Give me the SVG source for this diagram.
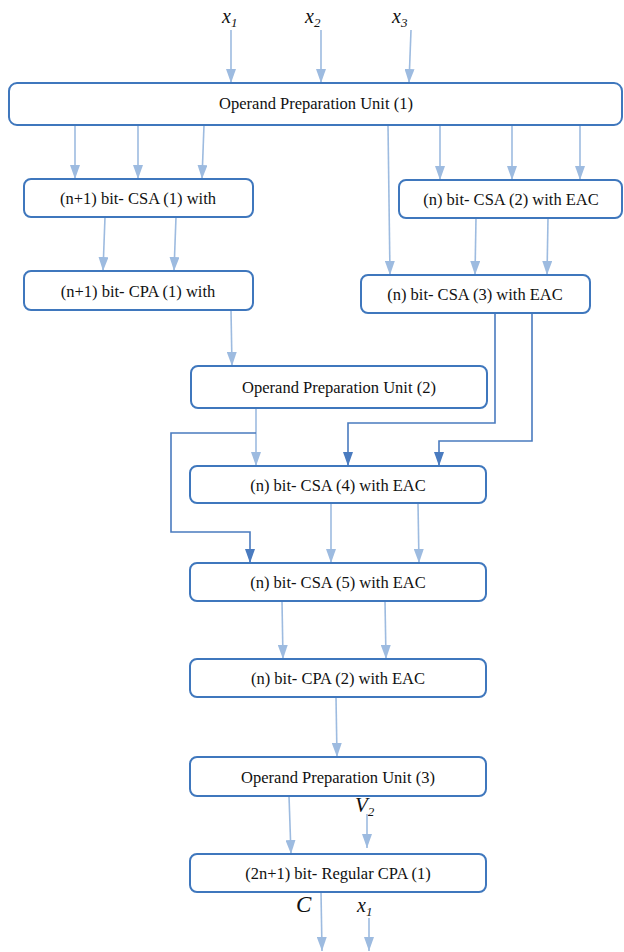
<svg xmlns="http://www.w3.org/2000/svg" width="624" height="952" viewBox="0 0 624 952">
<style>
.box{fill:#fff;stroke:#3f77bd;stroke-width:2}
.t{font-family:"Liberation Serif","Times New Roman","DejaVu Serif",serif;font-size:16.5px;fill:#111;text-anchor:middle}
.lbl{font-family:"Liberation Serif","Times New Roman","DejaVu Serif",serif;font-style:italic;fill:#111}
.lt{fill:none;stroke:#9dbbe0;stroke-width:1.6}
.dk{fill:none;stroke:#4a7bbf;stroke-width:1.6}
</style>
<defs>
<marker id="al" markerUnits="userSpaceOnUse" markerWidth="14" markerHeight="10" refX="14" refY="5" orient="auto"><path d="M0,0 L14,5 L0,10 z" fill="#9dbbe0"/></marker>
<marker id="ad" markerUnits="userSpaceOnUse" markerWidth="14" markerHeight="10" refX="14" refY="5" orient="auto"><path d="M0,0 L14,5 L0,10 z" fill="#4a7bbf"/></marker>
</defs>
<rect width="624" height="952" fill="#fff"/>
<g id="labels">
<text class="lbl" x="222" y="23" font-size="20">x<tspan font-size="13" dy="4">1</tspan></text>
<text class="lbl" x="305" y="23" font-size="20">x<tspan font-size="13" dy="4">2</tspan></text>
<text class="lbl" x="392" y="23" font-size="20">x<tspan font-size="13" dy="4">3</tspan></text>
<text class="lbl" x="355" y="812" font-size="21">V<tspan font-size="13" dy="4">2</tspan></text>
<text class="lbl" x="296" y="912" font-size="23">C</text>
<text class="lbl" x="357" y="912" font-size="20">x<tspan font-size="13" dy="4">1</tspan></text>
</g>
<g id="connectors">
<line class="lt" x1="231" y1="30" x2="231" y2="83" marker-end="url(#al)"/>
<line class="lt" x1="321" y1="30" x2="321" y2="83" marker-end="url(#al)"/>
<line class="lt" x1="411" y1="30" x2="409" y2="83" marker-end="url(#al)"/>
<line class="lt" x1="75" y1="125" x2="75" y2="179" marker-end="url(#al)"/>
<line class="lt" x1="138" y1="125" x2="138" y2="179" marker-end="url(#al)"/>
<line class="lt" x1="204" y1="125" x2="202" y2="179" marker-end="url(#al)"/>
<line class="lt" x1="440" y1="125" x2="440" y2="180" marker-end="url(#al)"/>
<line class="lt" x1="512" y1="125" x2="512" y2="180" marker-end="url(#al)"/>
<line class="lt" x1="580" y1="125" x2="580" y2="180" marker-end="url(#al)"/>
<line class="lt" x1="388" y1="125" x2="390" y2="275" marker-end="url(#al)"/>
<line class="lt" x1="105" y1="217" x2="103" y2="271" marker-end="url(#al)"/>
<line class="lt" x1="176" y1="217" x2="174" y2="271" marker-end="url(#al)"/>
<line class="lt" x1="476" y1="218" x2="475" y2="275" marker-end="url(#al)"/>
<line class="lt" x1="548" y1="218" x2="547" y2="275" marker-end="url(#al)"/>
<line class="lt" x1="231" y1="310" x2="232" y2="366" marker-end="url(#al)"/>
<line class="lt" x1="256" y1="408" x2="256" y2="466" marker-end="url(#al)"/>
<path class="dk" d="M256,433 H171 V532 H250 V563" marker-end="url(#ad)"/>
<path class="dk" d="M495,313 V423 H348 V466" marker-end="url(#ad)"/>
<path class="dk" d="M532,313 V441 H439 V466" marker-end="url(#ad)"/>
<line class="lt" x1="331" y1="503" x2="331" y2="563" marker-end="url(#al)"/>
<line class="lt" x1="418" y1="503" x2="419" y2="563" marker-end="url(#al)"/>
<line class="lt" x1="282" y1="601" x2="283" y2="659" marker-end="url(#al)"/>
<line class="lt" x1="385" y1="601" x2="386" y2="659" marker-end="url(#al)"/>
<line class="lt" x1="336" y1="697" x2="337" y2="757" marker-end="url(#al)"/>
<line class="lt" x1="289" y1="796" x2="291" y2="854" marker-end="url(#al)"/>
<line class="lt" x1="367" y1="814" x2="367" y2="848" marker-end="url(#al)"/>
<line class="lt" x1="321" y1="892" x2="322" y2="951" marker-end="url(#al)"/>
<line class="lt" x1="369" y1="918" x2="369" y2="951" marker-end="url(#al)"/>
</g>
<g id="opu1"><rect class="box" x="9" y="83" width="613" height="42" rx="8"/><text class="t" x="316" y="109">Operand Preparation Unit (1)</text></g>
<g id="csa1"><rect class="box" x="24" y="179" width="229" height="38" rx="7"/><text class="t" x="138" y="204">(n+1) bit- CSA (1) with</text></g>
<g id="csa2"><rect class="box" x="399" y="180" width="223" height="38" rx="7"/><text class="t" x="511" y="205">(n) bit- CSA (2) with EAC</text></g>
<g id="cpa1"><rect class="box" x="24" y="271" width="229" height="39" rx="7"/><text class="t" x="138" y="297">(n+1) bit- CPA (1) with</text></g>
<g id="csa3"><rect class="box" x="361" y="275" width="229" height="38" rx="7"/><text class="t" x="475" y="300">(n) bit- CSA (3) with EAC</text></g>
<g id="opu2"><rect class="box" x="191" y="366" width="296" height="42" rx="7"/><text class="t" x="339" y="393">Operand Preparation Unit (2)</text></g>
<g id="csa4"><rect class="box" x="190" y="466" width="296" height="37" rx="7"/><text class="t" x="338" y="491">(n) bit- CSA (4) with EAC</text></g>
<g id="csa5"><rect class="box" x="190" y="563" width="296" height="38" rx="7"/><text class="t" x="338" y="588">(n) bit- CSA (5) with EAC</text></g>
<g id="cpa2"><rect class="box" x="190" y="659" width="296" height="38" rx="7"/><text class="t" x="338" y="684">(n) bit- CPA (2) with EAC</text></g>
<g id="opu3"><rect class="box" x="190" y="757" width="296" height="39" rx="7"/><text class="t" x="338" y="783">Operand Preparation Unit (3)</text></g>
<g id="rcpa"><rect class="box" x="190" y="854" width="296" height="38" rx="7"/><text class="t" x="338" y="879">(2n+1) bit- Regular CPA (1)</text></g>
</svg>
